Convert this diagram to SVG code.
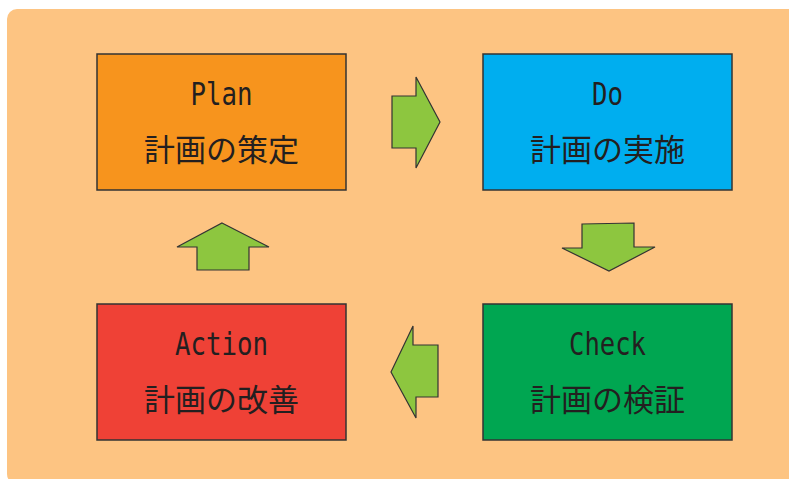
<svg xmlns="http://www.w3.org/2000/svg" width="789" height="479" viewBox="0 0 789 479">
<style>
.box{stroke:#333;stroke-width:1.5}
.en{font-family:"DejaVu Sans Mono","Liberation Mono",monospace;font-size:32px;fill:#231f20;text-anchor:middle}
.ja{font-family:"Noto Sans CJK JP","Noto Sans CJK SC",sans-serif;font-size:31px;fill:#231f20;text-anchor:middle}
.arr{fill:#8DC63F;stroke:#333;stroke-width:1.2;stroke-linejoin:miter}
</style>
<rect x="0" y="0" width="789" height="479" fill="#fff"/>
<rect x="7" y="9" width="800" height="475" rx="10" fill="#FDC482"/>
<g id="plan">
<rect class="box" x="97" y="54" width="249" height="136" fill="#F7941D"/>
<text class="en" x="221.5" y="105" textLength="62" lengthAdjust="spacingAndGlyphs">Plan</text>
<text class="ja" x="221.5" y="161">計画の策定</text>
</g>
<g id="do">
<rect class="box" x="483" y="54" width="249" height="136" fill="#00AEEF"/>
<text class="en" x="607.5" y="105" textLength="31" lengthAdjust="spacingAndGlyphs">Do</text>
<text class="ja" x="607.5" y="161">計画の実施</text>
</g>
<g id="action">
<rect class="box" x="97" y="304" width="249" height="136" fill="#EF4136"/>
<text class="en" x="221.5" y="355" textLength="93" lengthAdjust="spacingAndGlyphs">Action</text>
<text class="ja" x="221.5" y="411">計画の改善</text>
</g>
<g id="check">
<rect class="box" x="483" y="304" width="249" height="136" fill="#00A651"/>
<text class="en" x="607.5" y="355" textLength="77" lengthAdjust="spacingAndGlyphs">Check</text>
<text class="ja" x="607.5" y="411">計画の検証</text>
</g>
<g id="connectors">
<polygon class="arr" points="392,96 416,96 416,77 440,122 416,168 416,148 392,148"/>
<polygon class="arr" points="582,224 634,223 634,247 655,247 609,271 562,248 582,248"/>
<polygon class="arr" points="391,372 413,326 413,345 438,345 438,397 416,397 416,418"/>
<polygon class="arr" points="222,223 269,247 249,247 249,270 197,270 197,247 177,247"/>
</g>
</svg>
